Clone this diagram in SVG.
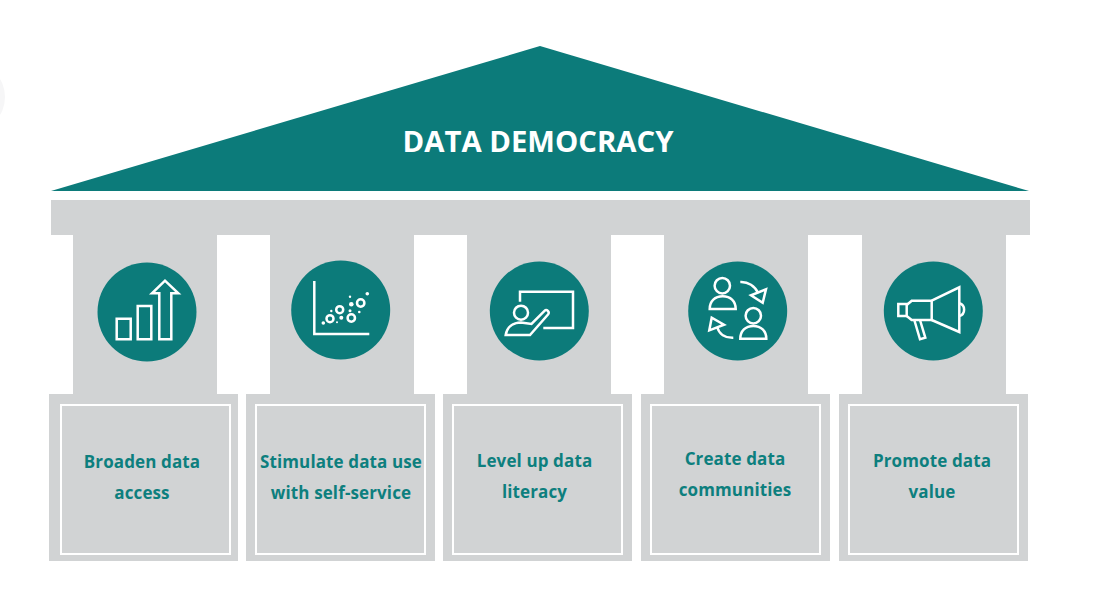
<svg xmlns="http://www.w3.org/2000/svg" width="1113" height="612" viewBox="0 0 1113 612">
<style>
.g{fill:#d1d3d4}
.c{fill:#0c7b7a}
.i{fill:none;stroke:#fff;stroke-width:2.500;stroke-linejoin:miter}
.d{fill:#fff}
.in{fill:none;stroke:#fff;stroke-width:2}
text{font-family:"Open Sans","Liberation Sans",sans-serif;font-weight:700;text-anchor:middle}
.l{font-size:17px;fill:#0d7f7e;letter-spacing:.12px}
</style>
<rect width="1113" height="612" fill="#fff"/>
<circle cx="-30" cy="97" r="35" fill="#f6f6f7"/>
<g id="roof">
<polygon class="c" points="540,46 1029,191 51,191"/>
<text x="538" y="152" font-size="29.300" fill="#fff">DATA DEMOCRACY</text>
</g>
<g id="beam"><rect class="g" x="51" y="200" width="979" height="35"/></g>
<g id="pillar-1">
<rect class="g" x="73" y="235" width="144" height="160"/>
<rect class="g" x="49" y="394" width="189" height="167"/>
<rect class="in" x="61" y="405" width="169" height="149"/>
<circle class="c" cx="147" cy="312" r="49.500"/>
<path class="i" d="M116.700 318.700h14v20.600h-14zM137.700 306h13.600v33.300h-13.600zM159.300 339.300h12v-46h7L165 280.700 152 293.300h7.300z"/>
<text class="l" x="142" y="468">Broaden data</text>
<text class="l" x="142" y="499">access</text>
</g>
<g id="pillar-2">
<rect class="g" x="270" y="235" width="144" height="160"/>
<rect class="g" x="246" y="394" width="189" height="167"/>
<rect class="in" x="256" y="405" width="169" height="149"/>
<circle class="c" cx="340.700" cy="310" r="49.500"/>
<path class="i" d="M314.300 281V334H369.300"/>
<circle class="i" cx="330" cy="318.700" r="3.500"/>
<circle class="i" cx="339.700" cy="309.700" r="3.500"/>
<circle class="i" cx="351.300" cy="318" r="3.700"/>
<circle class="i" cx="360.700" cy="303" r="3.700"/>
<circle class="d" cx="323.300" cy="323" r="1.800"/>
<circle class="d" cx="331.300" cy="311" r="1.200"/>
<circle class="d" cx="341.300" cy="317.700" r="2"/>
<circle class="d" cx="337" cy="322.300" r="1"/>
<circle class="d" cx="350" cy="310.700" r="1.500"/>
<circle class="d" cx="351.300" cy="304.300" r="2.300"/>
<circle class="d" cx="350" cy="296.700" r="1.200"/>
<circle class="d" cx="359.300" cy="312" r="1.300"/>
<circle class="d" cx="367.300" cy="293.700" r="1.800"/>
<text class="l" x="341" y="468">Stimulate data use</text>
<text class="l" x="341" y="499">with self-service</text>
</g>
<g id="pillar-3">
<rect class="g" x="467" y="235" width="144" height="160"/>
<rect class="g" x="443" y="394" width="189" height="167"/>
<rect class="in" x="453" y="405" width="169" height="149"/>
<circle class="c" cx="539.300" cy="311" r="49.500"/>
<path class="i" d="M520 301.700V291.700H573V328H543.300"/>
<circle class="i" cx="521" cy="312.700" r="7"/>
<path class="i" stroke-linejoin="round" d="M505.700 335C507 327 513 322.500 521 322.500L531.500 324L544.500 310.800C546.800 308.700 550 312 548 314.500L530 335Z"/>
<text class="l" x="534.500" y="467">Level up data</text>
<text class="l" x="534.500" y="498">literacy</text>
</g>
<g id="pillar-4">
<rect class="g" x="664" y="235" width="144" height="160"/>
<rect class="g" x="641" y="394" width="189" height="167"/>
<rect class="in" x="651" y="405" width="169" height="149"/>
<circle class="c" cx="737.700" cy="311" r="49.500"/>
<circle class="i" cx="722.300" cy="285.700" r="7.700"/>
<path class="i" d="M709.700 309C709.700 301 715 296.300 722.700 296.300S735.700 301 735.700 309Z"/>
<circle class="i" cx="753.300" cy="315.700" r="7.700"/>
<path class="i" d="M740.300 338.700C740.300 331 745.500 326 753.300 326S766.300 331 766.300 338.700Z"/>
<path class="i" d="M740.300 282C748 281.500 755 286 758.300 293.300"/>
<path class="i" d="M766 289.300L762.700 302.700L751 295.300Z"/>
<path class="i" d="M733.300 337.700C725 338 719 334 717.300 327.300"/>
<path class="i" d="M709.300 330.300L711.700 317.700L724 324.700Z"/>
<text class="l" x="735" y="465">Create data</text>
<text class="l" x="735" y="496">communities</text>
</g>
<g id="pillar-5">
<rect class="g" x="862" y="235" width="144" height="160"/>
<rect class="g" x="839" y="394" width="189" height="167"/>
<rect class="in" x="849" y="405" width="169" height="149"/>
<circle class="c" cx="933.300" cy="311" r="49.500"/>
<path class="i" d="M898.300 304H906.700V316H898.300Z"/>
<path class="i" d="M906.700 305L911.700 300.700H931.700V320H911.700L906.700 316"/>
<path class="i" d="M931.700 300.700L959.300 287.300V332L931.700 320"/>
<path class="i" d="M959.300 303.300A6.600 6.600 0 0 1 959.300 316"/>
<path class="i" d="M914.300 320L920 339.300L925.300 337.700L920 320"/>
<text class="l" x="932" y="467">Promote data</text>
<text class="l" x="932" y="498">value</text>
</g>
<g id="connectors"></g>
</svg>
